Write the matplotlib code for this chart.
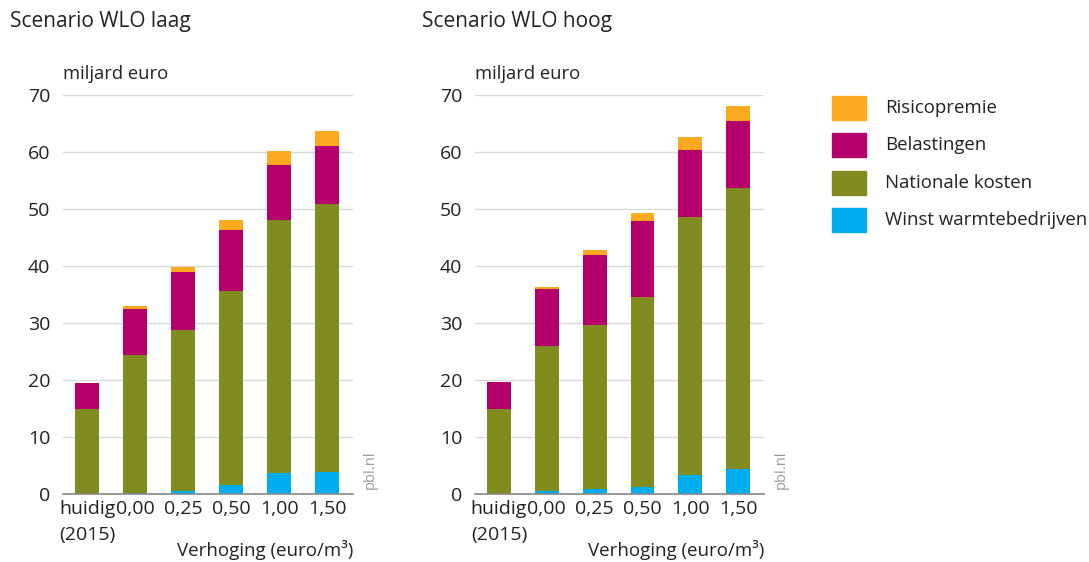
import matplotlib
matplotlib.use("Agg")
import matplotlib.pyplot as plt
import numpy as np
from matplotlib.patches import Rectangle

plt.rcParams["font.family"] = ["Open Sans", "DejaVu Sans"]

# categorieen
labels = ["huidig\n(2015)", "0,00", "0,25", "0,50", "1,00", "1,50"]
series = ["Winst warmtebedrijven", "Nationale kosten", "Belastingen", "Risicopremie"]
colors = ["#00AEEF", "#818C20", "#B5006B", "#FBAA1F"]

# Scenario WLO laag (miljard euro, segmenten)
laag_winst = [0.0, 0.2, 0.5, 1.5, 3.7, 3.9]
laag_nat = [14.9, 24.2, 28.2, 34.2, 44.3, 46.9]
laag_bel = [4.6, 8.1, 10.2, 10.6, 9.8, 10.3]
laag_risico = [0.0, 0.5, 1.0, 1.7, 2.4, 2.5]

# Scenario WLO hoog
hoog_winst = [0.0, 0.5, 0.9, 1.2, 3.3, 4.4]
hoog_nat = [15.0, 25.4, 28.7, 33.3, 45.3, 49.3]
hoog_bel = [4.6, 10.0, 12.4, 13.4, 11.7, 11.8]
hoog_risico = [0.0, 0.5, 0.8, 1.4, 2.4, 2.5]

W, H = 1089, 562
fig = plt.figure(figsize=(W / 100, H / 100), dpi=100)


def px(x0, y0, x1, y1):
    return [x0 / W, 1 - y1 / H, (x1 - x0) / W, (y1 - y0) / H]


def draw(ax, data, title, title_x):
    x = np.arange(len(labels))
    bottom = np.zeros(len(labels))
    for vals, c in zip(data, colors):
        ax.bar(x, vals, width=0.5, bottom=bottom, color=c, zorder=3)
        bottom += np.array(vals)
    ax.set_ylim(0, 70)
    ax.set_xlim(-0.5, 5.54)
    ax.set_yticks(range(0, 71, 10))
    ax.yaxis.grid(True, color="#d9d9d9", lw=1, zorder=0)
    for s in ["top", "right", "left"]:
        ax.spines[s].set_visible(False)
    ax.spines["bottom"].set_color("#888888")
    ax.spines["bottom"].set_linewidth(1.2)
    ax.spines["bottom"].set_zorder(4)
    ax.tick_params(length=0, labelsize=14, colors="#222222")
    ax.tick_params(axis="y", pad=9)
    ax.tick_params(axis="x", pad=4)
    ax.set_xticks(x)
    ax.set_xticklabels(labels, multialignment="left", linespacing=1.6)
    ax.text(0, 1.03, "miljard euro", transform=ax.transAxes, fontsize=13.2,
            color="#222222", va="bottom", ha="left")
    ax.text(1.0, -0.14, "Verhoging (euro/m\u00b3)", transform=ax.transAxes,
            fontsize=13.5, color="#222222", ha="right", va="center")
    ax.text(1.06, 0.06, "pbl.nl", transform=ax.transAxes, rotation=90,
            fontsize=10.5, color="#999999", ha="center", va="center")
    fig.text(title_x / W, 1 - 22 / H, title, fontsize=15, color="#222222",
             ha="left", va="center")


ax1 = fig.add_axes(px(63, 95, 353, 494))
draw(ax1, [laag_winst, laag_nat, laag_bel, laag_risico], "Scenario WLO laag", 10)
ax2 = fig.add_axes(px(475, 95, 764, 494))
draw(ax2, [hoog_winst, hoog_nat, hoog_bel, hoog_risico], "Scenario WLO hoog", 422)

# legenda
leg_y = [108, 145, 183, 220]
for name, c, yy in zip(series[::-1], colors[::-1], leg_y):
    fig.patches.append(Rectangle((832 / W, 1 - (yy + 12) / H), 34 / W, 24 / H,
                                 transform=fig.transFigure, color=c))
    fig.text(885 / W, 1 - yy / H, name, fontsize=13.4, color="#222222",
             ha="left", va="center")

fig.savefig("out.png", dpi=100)
